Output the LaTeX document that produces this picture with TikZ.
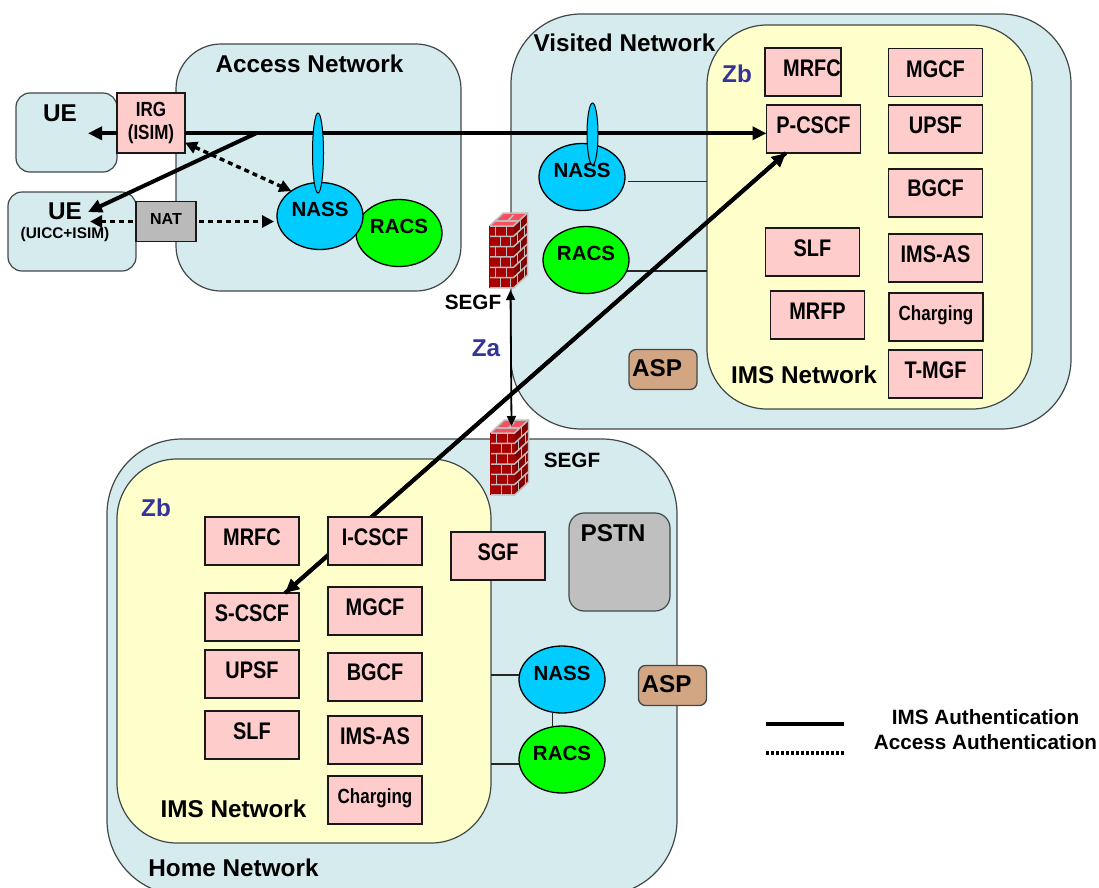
\documentclass[tikz,border=0pt]{standalone}
\usepackage{fontspec}
\setmainfont{Liberation Sans}
\newfontfamily\narrowfont[FakeStretch=0.83]{Liberation Sans}
\usetikzlibrary{arrows.meta}
\usetikzlibrary{shapes.geometric}
\definecolor{netfill}{HTML}{D6EBEE}
\definecolor{imsfill}{HTML}{FFFFCC}
\definecolor{funcfill}{HTML}{FFCCCC}
\definecolor{nassfill}{HTML}{00CCFF}
\definecolor{racsfill}{HTML}{00FF00}
\definecolor{aspfill}{HTML}{D2A583}
\definecolor{zblue}{HTML}{333399}
\definecolor{edgegray}{HTML}{404848}
\definecolor{brickfront}{HTML}{A80000}
\definecolor{brickside}{HTML}{840000}
\definecolor{bricktop}{HTML}{F85060}
\definecolor{mortar}{HTML}{C0BCBC}
\tikzset{
	netbox/.style={draw=edgegray,line width=1.2pt,fill=netfill,rectangle,rounded corners=#1,inner sep=0pt,outer sep=0pt},
	netbox/.default=60pt,
	imsbox/.style={draw=edgegray,line width=1.2pt,fill=imsfill,rectangle,rounded corners=60pt,inner sep=0pt,outer sep=0pt},
	funcbox/.style={draw=black!90,line width=1.6pt,fill=funcfill,rectangle,inner sep=0pt,outer sep=0pt,minimum width=94pt,minimum height=48pt,
		font=\narrowfont\bfseries\fontsize{24}{26}\selectfont,text height=17pt,text depth=8pt},
	funcsmall/.style={font=\narrowfont\bfseries\fontsize{20.5}{23}\selectfont,text depth=11pt},
	nassnode/.style={draw=black,line width=1.3pt,fill=nassfill,ellipse,inner sep=0pt,outer sep=0pt,minimum width=86pt,minimum height=67pt,
		font=\bfseries\fontsize{20.5}{22}\selectfont,text height=15pt,text depth=14pt},
	racsnode/.style={nassnode,fill=racsfill},
	spikenode/.style={draw=black,line width=1pt,fill=nassfill,ellipse,inner sep=0pt,outer sep=0pt,minimum width=11pt},
	aspnode/.style={draw=edgegray,line width=1.3pt,fill=aspfill,rectangle,rounded corners=7pt,inner xsep=3pt,inner ysep=0pt,outer sep=0pt,
		text width=62pt,align=left,minimum height=40pt,font=\bfseries\fontsize{24.3}{26}\selectfont,text height=17pt,text depth=4pt},
	biglabel/.style={font=\bfseries\fontsize{24.3}{26}\selectfont,inner sep=0pt},
	midlabel/.style={font=\bfseries\fontsize{20.7}{23}\selectfont,inner sep=0pt},
	zlabel/.style={biglabel,text=zblue},
	authline/.style={line width=4pt,-{Triangle[length=14pt,width=13pt]}},
	accessline/.style={line width=3.4pt,dash pattern=on 5pt off 4pt},
	thinline/.style={line width=1.2pt,draw=black!85},
	mortarline/.style={mortar,line width=1.5pt},
	pics/firewall/.style={code={
		\fill[brickfront] (0,0) rectangle (24,62);
		\fill[brickside] (24,0)--(38,-13)--(38,49)--(24,62)--cycle;
		\fill[bricktop] (0,0)--(24,0)--(38,-13)--(14,-13)--cycle;
		\foreach \r in {0,...,6}
			\draw[mortarline] (0,\r*10.33)--(24,\r*10.33)--(38,\r*10.33-13);
		\foreach \r in {0,2,4}{
			\draw[mortarline] (17,\r*10.33)--(17,\r*10.33+10.33);
			\draw[mortarline] (6,\r*10.33)--(6,\r*10.33+10.33);
			\draw[mortarline] (31,\r*10.33-6.5)--(31,\r*10.33+3.83);
		}
		\foreach \r in {1,3,5}{
			\draw[mortarline] (11,\r*10.33)--(11,\r*10.33+10.33);
			\draw[mortarline] (21,\r*10.33)--(21,\r*10.33+10.33);
			\draw[mortarline] (28,\r*10.33-3.7)--(28,\r*10.33+6.6);
			\draw[mortarline] (35,\r*10.33-10.2)--(35,\r*10.33+0.1);
		}
		\draw[mortarline] (0,0)--(14,-13)--(38,-13)--(38,49);
		\draw[mortarline] (5,-5)--(29,-5);
		\draw[mortarline] (18,-5)--(24,-11);
		\draw[brickfront,line width=0.9pt] (0,0)--(0,62);
		\coordinate (-bot) at (21,64);
		\coordinate (-top) at (21,-7);
	}},
}
\begin{document}
\begin{tikzpicture}[x=1pt,y=-1pt]
	\useasboundingbox (0,0) rectangle (1099,887);
	\clip (0,0) rectangle (1099,887);
	% networks
	\node[netbox=45pt,minimum width=285pt,minimum height=247pt] (access) at (318.5,167.5) {};
	\node[netbox=14pt,minimum width=101pt,minimum height=79pt] (uea) at (66.5,132.5) {};
	\node[netbox=14pt,minimum width=128pt,minimum height=79pt] (ueb) at (72,231.5) {};
	\node[netbox=70pt,minimum width=560pt,minimum height=415pt] (visited) at (791,221.5) {};
	\node[imsbox,minimum width=325pt,minimum height=384pt] (imsv) at (869.5,217) {};
	\node[netbox=75pt,minimum width=570pt,minimum height=456pt] (home) at (392,667) {};
	\node[imsbox,minimum width=374pt,minimum height=384pt] (imsh) at (304,651) {};
	% texts of the networks
	\node[biglabel] (accesstxt) at (309.5,64) {Access Network};
	\node[biglabel] (visitedtxt) at (624.5,43) {Visited Network};
	\node[biglabel] (homelabel) at (233.5,868) {Home Network};
	\node[biglabel] (imsvtxt) at (804,375) {IMS Network};
	\node[biglabel] (imshtxt) at (233.5,809) {IMS Network};
	\node[biglabel] (ueatxt) at (60,113) {UE};
	\node[biglabel] (uebtxt) at (65,211) {UE};
	\node[font=\bfseries\fontsize{15.4}{17}\selectfont,inner sep=0pt] (uebsub) at (65,235) {(UICC+ISIM)};
	\node[zlabel] (zbv) at (737,74) {Zb};
	\node[zlabel] (zbh) at (156,508) {Zb};
	\node[zlabel] (za) at (486,348) {Za};
	% access network
	\node[funcbox,funcsmall,minimum width=68pt,minimum height=60pt,text height=,text depth=,align=center] (irg) at (151,123) {IRG\\(ISIM)};
	\node[funcbox,fill=black!27,line width=1.2pt,minimum width=60pt,minimum height=40pt,font=\bfseries\fontsize{16}{18}\selectfont,text height=12pt,text depth=6pt] (nat) at (166,221.5) {NAT};
	\node[racsnode] (racsa) at (399,233) {RACS};
	\node[nassnode] (nassa) at (320,216) {NASS};
	% visited network
	\node[nassnode] (nassv) at (582,177) {NASS};
	\node[racsnode] (racsv) at (586,260) {RACS};
	\node[aspnode] (aspv) at (663,369.5) {ASP};
	\node[funcbox,minimum width=74pt] (mrfcv) at (803,72) {\hspace*{18pt}MRFC};
	\node[funcbox] (mgcfv) at (935.5,72.5) {MGCF};
	\node[funcbox] (pcscf) at (813.5,129) {P-CSCF};
	\node[funcbox] (upsfv) at (935.5,129) {UPSF};
	\node[funcbox,text depth=10pt] (bgcfv) at (935.5,193) {BGCF};
	\node[funcbox] (slfv) at (812.5,252) {SLF};
	\node[funcbox] (imsasv) at (935.5,258) {IMS-AS};
	\node[funcbox] (mrfp) at (817.5,315) {MRFP};
	\node[funcbox,funcsmall] (chargv) at (936,317) {Charging};
	\node[funcbox] (tmgf) at (935.5,374) {T-MGF};
	\draw[thinline] (nassv.-6)+(3,0) -- (imsv.west |- nassv.-6);
	\draw[thinline] (racsv.-15) -- (imsv.west |- racsv.-15);
	% home network
	\node[funcbox] (mrfch) at (252,541) {MRFC};
	\node[funcbox] (sgf) at (498,556) {SGF};
	\node[funcbox] (scscf) at (252,617) {S-CSCF};
	\node[funcbox] (mgcfh) at (375,611) {MGCF};
	\node[funcbox] (upsfh) at (252,674) {UPSF};
	\node[funcbox,text depth=10pt] (bgcfh) at (375,677) {BGCF};
	\node[funcbox] (slfh) at (252,735) {SLF};
	\node[funcbox] (imsash) at (375,740) {IMS-AS};
	\node[funcbox,funcsmall] (chargh) at (375,800) {Charging};
	\node[netbox=15pt,fill=black!25,minimum width=101pt,minimum height=98pt] (pstn) at (619.5,562) {};
	\node[biglabel] (pstntxt) at (613,533) {PSTN};
	\node[nassnode] (nassh) at (562,679.5) {NASS};
	\node[racsnode] (racsh) at (562,759.5) {RACS};
	\node[aspnode] (asph) at (672.5,685.5) {ASP};
	\draw[thinline] (nassh.174) -- (imsh.east |- nassh.174);
	\draw[thinline] (racsh.186) -- (imsh.east |- racsh.186);
	\draw[thinline] (nassh.-106) -- (racsh.106);
	% firewalls
	\pic (fwv) at (489.5,226) {firewall};
	\pic (fwh) at (490.5,433) {firewall};
	\node[midlabel] (segfv) at (473,302) {SEGF};
	\node[midlabel] (segfh) at (572,460) {SEGF};
	\draw[line width=1.8pt,{Triangle[length=10pt,width=9pt]}-{Triangle[length=10pt,width=9pt]}] (fwv-bot) -- (fwh-top);
	% authentication
	\coordinate (split) at (256,133.3);
	\coordinate (ueatip) at (88,133.3);
	\coordinate (uebtip) at (88,212);
	\coordinate (uedot) at (90,221.5);
	\draw[authline] (irg.west |- split) -- (ueatip);
	\draw[authline] (irg.east |- split) -- (pcscf.west |- split);
	\draw[authline] (split) -- (uebtip);
	\draw[authline] (pcscf.221) -- (scscf.36);
	\draw[authline] (scscf.36) -- (pcscf.221);
	\draw[accessline,{Triangle[length=12pt,width=12pt]}-{Triangle[length=12pt,width=12pt]}] (irg.-30.5) -- (nassa.139);
	\draw[accessline,-{Triangle[length=12pt,width=12pt]},shorten <=3pt] (nat.west) -- (uedot);
	\draw[accessline,-{Triangle[length=12pt,width=12pt]},shorten <=3pt,shorten >=3pt] (nat.east) -- (nassa.west |- nat.east);
	\node[funcbox] (icscf) at (375,541) {I-CSCF};
	\node[spikenode,minimum height=80pt] (spikea) at (318,153) {};
	\node[spikenode,minimum height=62pt] (spikev) at (592.5,134) {};
	% legend
	\coordinate (legaa) at (766,724);
	\coordinate (legab) at (844,724);
	\coordinate (legba) at (766,753);
	\coordinate (legbb) at (844,753);
	\draw[line width=4pt] (legaa) -- (legab);
	\draw[line width=3.4pt,dash pattern=on 3pt off 2pt] (legba) -- (legbb);
	\node[midlabel] (legauth) at (985.5,717) {IMS Authentication};
	\node[midlabel] (legacc) at (985.5,742) {Access Authentication};
\end{tikzpicture}
\end{document}
